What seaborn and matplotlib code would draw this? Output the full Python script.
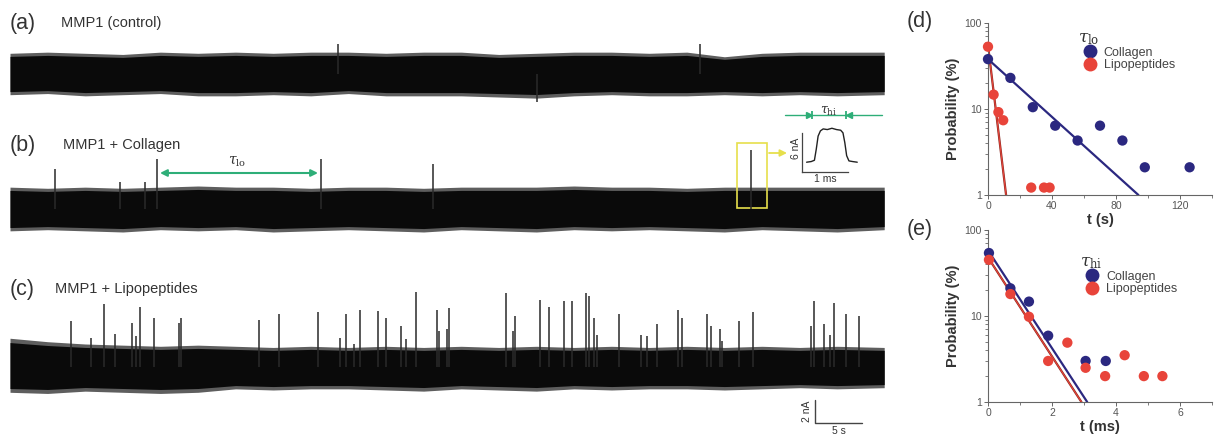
import numpy as np
import pandas as pd
import matplotlib
matplotlib.use("Agg")
import matplotlib.pyplot as plt
import seaborn as sns
from matplotlib.patches import Rectangle

W, H = 1214, 436

# ---------------- current traces (time in s, current in nA) ----------------
env_t = [0, 4, 8, 12, 16, 20, 24, 28, 32, 36, 40, 44, 48, 52, 56, 60, 64, 68, 72, 76, 80, 84, 88, 93]

a_up = [1.8, 1.9, 1.8, 1.7, 1.9, 1.8, 1.9, 1.8, 1.9, 1.9, 1.8, 1.9, 1.9, 1.7, 1.8, 1.9, 1.9, 1.8, 1.9, 1.5, 1.8, 1.9, 1.9, 1.9]
a_lo = [-1.8, -1.7, -1.9, -1.8, -1.7, -1.9, -1.9, -1.8, -1.9, -1.7, -1.9, -1.9, -1.9, -2.0, -2.1, -1.9, -1.8, -1.9, -1.9, -1.8, -1.9, -1.8, -1.9, -1.8]
b_up = [1.9, 1.8, 1.9, 1.8, 1.9, 2.0, 1.9, 1.9, 1.8, 1.9, 1.9, 1.8, 1.9, 1.9, 1.9, 2.0, 1.9, 1.9, 1.8, 1.9, 1.9, 1.9, 1.9, 1.9]
b_lo = [-1.9, -1.8, -1.9, -2.0, -1.8, -1.9, -1.8, -2.0, -1.9, -1.8, -1.9, -2.0, -1.8, -1.9, -2.0, -1.8, -1.9, -1.8, -1.9, -2.0, -1.8, -1.9, -2.0, -1.8]
c_up = [2.5, 2.2, 2.0, 1.9, 1.8, 1.9, 1.8, 1.7, 1.8, 1.7, 1.8, 1.7, 1.8, 1.7, 1.8, 1.7, 1.8, 1.7, 1.8, 1.7, 1.8, 1.7, 1.8, 1.7]
c_lo = [-2.2, -2.3, -2.1, -2.2, -2.3, -2.2, -1.9, -2.0, -1.9, -1.9, -2.0, -2.1, -1.9, -2.0, -2.1, -1.9, -2.0, -1.9, -1.9, -2.0, -1.9, -1.8, -1.9, -1.8]

a_spk_t = [34.9, 56.1, 73.4]
a_spk_amp = [2.6, -2.4, 2.6]

b_spk_t = [4.8, 11.7, 14.4, 15.6, 33.1, 45.0, 78.8]
b_spk_amp = [3.5, 2.35, 2.35, 4.35, 4.35, 3.9, 5.1]

c_spk_t = [6.46, 8.62, 9.97, 11.17, 12.95, 13.37, 13.80, 15.29, 18.01, 18.19,
           26.46, 28.59, 32.80, 35.11, 35.78, 36.63, 37.23, 39.12, 39.97, 41.60,
           42.10, 43.19, 45.39, 45.64, 46.46, 46.73, 52.73, 53.54, 53.76, 56.35,
           57.34, 58.90, 59.82, 61.24, 61.60, 62.10, 62.41, 64.79, 67.13, 67.77,
           68.80, 71.10, 71.52, 74.18, 74.54, 75.53, 75.74, 77.59, 79.01, 85.18,
           85.53, 86.63, 87.23, 87.63, 88.90, 90.29]
c_spk_amp = [4.0, 2.5, 5.5, 2.9, 3.8, 2.7, 5.2, 4.3, 3.8, 4.3,
             4.1, 4.6, 4.8, 2.5, 4.6, 2.0, 5.0, 4.9, 4.3, 3.6,
             2.4, 6.5, 5.0, 3.1, 3.3, 5.1, 6.4, 3.1, 4.4, 5.8,
             5.2, 5.7, 5.7, 6.4, 6.2, 4.3, 2.8, 4.6, 2.8, 2.7,
             3.7, 5.0, 4.3, 4.6, 3.6, 3.3, 2.3, 4.0, 4.8, 3.6,
             5.7, 3.7, 2.8, 5.6, 4.6, 4.4]

# zoomed single event (ms, nA)
inset_t = [0.10, 0.20, 0.27, 0.31, 0.35, 0.40, 0.46, 0.55, 0.65, 0.75, 0.84, 0.89, 0.93, 0.97, 1.02, 1.10, 1.20]
inset_i = [1.5, 1.6, 1.8, 3.5, 5.5, 6.3, 6.6, 6.5, 6.7, 6.5, 6.4, 6.0, 4.5, 2.5, 1.7, 1.6, 1.5]

# ---------------- dwell time distributions ----------------
lo_coll_t = [0, 14, 28, 42, 56, 70, 84, 98, 126]
lo_coll_p = [38, 23, 10.5, 6.4, 4.3, 6.4, 4.3, 2.1, 2.1]
lo_lipo_t = [0, 3.5, 6.5, 9.5, 27, 35, 38.5]
lo_lipo_p = [53, 14.7, 9.2, 7.4, 1.22, 1.22, 1.22]
lo_coll_fit_t, lo_coll_fit_p = [0, 94], [38, 1]
lo_lipo_fit_t, lo_lipo_fit_p = [0, 11.3], [55, 1]

hi_coll_t = [0.03, 0.7, 1.28, 1.88, 3.05, 3.68]
hi_coll_p = [54, 21, 14.7, 5.9, 3.0, 3.0]
hi_lipo_t = [0.03, 0.7, 1.28, 1.88, 2.48, 3.05, 3.66, 4.27, 4.87, 5.45]
hi_lipo_p = [45, 18, 9.8, 3.0, 4.9, 2.5, 2.0, 3.5, 2.0, 2.0]
hi_coll_fit_t, hi_coll_fit_p = [0, 3.1], [58, 1]
hi_lipo_fit_t, hi_lipo_fit_p = [0, 2.92], [48, 1]

BLUE = "#2b2880"
RED = "#e8443a"
GREEN = "#2eae78"
TXT = "#333333"

sns.set_style("ticks")
plt.rcParams["font.family"] = ["Liberation Sans", "DejaVu Sans"]
plt.rcParams["mathtext.fontset"] = "dejavuserif"


def fx(px):
    return px / W


def fy(py):
    return 1 - py / H


PXS = 9.4    # px per second
PXA = 11.5   # px per nA


def tx(px):
    return (px - 10) / PXS


def ty(py):
    return (H - py) / PXA


fig = plt.figure(figsize=(W / 100, H / 100), dpi=100)

# ---- left: traces
ax = fig.add_axes([fx(10), 0, fx(900) - fx(10), 1])
ax.set_xlim(0, 890 / PXS)
ax.set_ylim(0, H / PXA)
ax.axis("off")

traces = [
    (ty(74), a_up, a_lo, a_spk_t, a_spk_amp),
    (ty(209), b_up, b_lo, b_spk_t, b_spk_amp),
    (ty(367), c_up, c_lo, c_spk_t, c_spk_amp),
]
for base, up, lo, st, sa in traces:
    up = np.array(up)
    lo = np.array(lo)
    ax.fill_between(env_t, base + lo, base + up, color="#1a1a1a", alpha=0.7, lw=0)
    ax.fill_between(env_t, base + 0.85 * lo, base + 0.85 * up, color="#0a0a0a", lw=0)
    ax.vlines(st, base, base + np.array(sa), color="#2a2a2a", lw=1.1)

labels = [("(a)", "MMP1 (control)", 23, 61), ("(b)", "MMP1 + Collagen", 145, 63),
          ("(c)", "MMP1 + Lipopeptides", 289, 55)]
for tag, name, py, nx in labels:
    fig.text(fx(10), fy(py), tag, fontsize=15.5, color=TXT, va="center", ha="left")
    fig.text(fx(nx), fy(py), name, fontsize=10.5, color=TXT, va="center", ha="left")

# tau_lo arrow
ax.annotate("", xy=(tx(318), ty(173)), xytext=(tx(160), ty(173)),
            arrowprops=dict(arrowstyle="<|-|>", color=GREEN, lw=1.5,
                            mutation_scale=10, shrinkA=0, shrinkB=0))
ax.text(tx(237), ty(162), r"$\tau_{\rm lo}$", color=TXT, fontsize=10, ha="center", va="center")

# yellow box + arrow
ax.add_patch(Rectangle((tx(737), ty(208)), tx(767) - tx(737), ty(143) - ty(208),
                       fill=False, ec="#e6df4c", lw=1.2))
ax.annotate("", xy=(tx(787), ty(153)), xytext=(tx(769), ty(153)),
            arrowprops=dict(arrowstyle="-|>", color="#e6df4c", lw=1.3,
                            mutation_scale=10, shrinkA=0, shrinkB=0))

# tau_hi marker
yh = ty(115)
ax.plot([tx(785), tx(882)], [yh, yh], color=GREEN, lw=1.0)
ax.plot([tx(809)], [yh], marker=">", color=GREEN, ms=5)
ax.plot([tx(849)], [yh], marker="<", color=GREEN, ms=5)
ax.plot([tx(812), tx(846)], [yh, yh], ls="none", marker="|", color=GREEN, ms=6, mew=1.3)
ax.text(tx(829), ty(111), r"$\tau_{\rm hi}$", color=TXT, fontsize=9, ha="center", va="center")

# scale bar 2 nA / 5 s
sx, sy = tx(815), ty(423)
ax.plot([sx, sx, sx + 5], [sy + 2, sy, sy], color="#444444", lw=1.0, clip_on=False)
ax.text(tx(807), sy + 1, "2 nA", rotation=90, fontsize=7.5, color=TXT, ha="center", va="center")
ax.text(sx + 2.5, ty(431), "5 s", fontsize=7.5, color=TXT, ha="center", va="center")

# inset single event
axi = fig.add_axes([fx(802), fy(172), (860 - 802) / W, (172 - 125) / H])
axi.plot(inset_t, inset_i, color="#222222", lw=1.0)
axi.set_xlim(0, 1.26)
axi.set_ylim(0, 7.2)
sns.despine(ax=axi)
axi.spines["left"].set_bounds(0, 6)
axi.spines["bottom"].set_bounds(0, 1)
for s in ("left", "bottom"):
    axi.spines[s].set_color("#444444")
    axi.spines[s].set_linewidth(0.9)
axi.set_xticks([])
axi.set_yticks([])
axi.set_facecolor("none")
axi.set_xlabel("1 ms", fontsize=7.5, color=TXT, labelpad=0)
axi.set_ylabel("6 nA", fontsize=7.5, color=TXT, labelpad=1)
axi.xaxis.set_label_coords(0.40, -0.05)


# ---- right: dwell time distributions
def dist_panel(top, bot, ct, cp, lt, lp, cft, cfp, lft, lfp, xmax, xt, xlabel, tau, leg_xy, tag):
    axp = fig.add_axes([fx(988), fy(bot), (1212 - 988) / W, (bot - top) / H])
    df = pd.DataFrame({"t": ct + lt, "p": cp + lp,
                       "kind": ["Collagen"] * len(ct) + ["Lipopeptides"] * len(lt)})
    axp.plot(cft, cfp, color=BLUE, lw=1.6, zorder=2)
    axp.plot(lft, lfp, color="#8a2a22", lw=1.6, zorder=2)
    axp.plot(lft, lfp, color=RED, lw=0.8, zorder=2)
    sns.scatterplot(data=df, x="t", y="p", hue="kind", palette=[BLUE, RED], s=55,
                    linewidth=0, ax=axp, zorder=3, clip_on=False)
    axp.set_yscale("log")
    axp.set_ylim(1, 100)
    axp.set_xlim(0, xmax)
    axp.set_yticks([1, 10, 100])
    axp.set_yticklabels(["1", "10", "100"])
    axp.set_xticks(xt)
    axp.set_xticklabels([f"{v:g}" for v in xt])
    axp.set_xticks([(a + b) / 2 for a, b in zip(xt[:-1], xt[1:])] + [xt[-1] + (xt[1] - xt[0]) / 2], minor=True)
    sns.despine(ax=axp)
    for s in ("left", "bottom"):
        axp.spines[s].set_color("#666666")
        axp.spines[s].set_linewidth(0.8)
    axp.tick_params(which="major", length=3, width=0.7, color="#666666", labelsize=7.5,
                    labelcolor="#555555", pad=1.5)
    axp.tick_params(which="minor", length=2, width=0.6, color="#666666")
    axp.set_xlabel(xlabel, fontsize=10.5, fontweight="bold", color=TXT, labelpad=1)
    axp.set_ylabel("Probability (%)", fontsize=10.5, fontweight="bold", color=TXT, labelpad=3)
    leg = axp.legend(title=tau, frameon=False, loc="upper left", bbox_to_anchor=leg_xy,
                     fontsize=9, title_fontsize=12, handletextpad=0.1, labelspacing=0.05,
                     borderpad=0, borderaxespad=0, markerscale=1.35)
    leg._legend_box.align = "left"
    leg._legend_box.sep = 0
    for t in leg.get_texts():
        t.set_color("#444444")
    leg.get_title().set_color(TXT)
    fig.text(fx(907), fy(top - 1), tag, fontsize=15.5, color=TXT, va="center", ha="left")
    return axp


dist_panel(23, 195, lo_coll_t, lo_coll_p, lo_lipo_t, lo_lipo_p,
           lo_coll_fit_t, lo_coll_fit_p, lo_lipo_fit_t, lo_lipo_fit_p,
           140, [0, 40, 80, 120], "t (s)", r"$\tau_{\rm lo}$", (0.40, 0.96), "(d)")
dist_panel(230, 402, hi_coll_t, hi_coll_p, hi_lipo_t, hi_lipo_p,
           hi_coll_fit_t, hi_coll_fit_p, hi_lipo_fit_t, hi_lipo_fit_p,
           6, [0, 2, 4, 6], "t (ms)", r"$\tau_{\rm hi}$", (0.41, 0.86), "(e)")

fig.savefig("out.png", dpi=100)
